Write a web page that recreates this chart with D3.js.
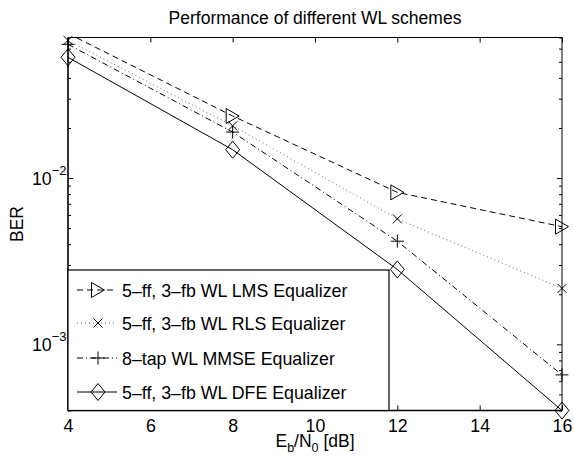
<!DOCTYPE html>
<html>
<head>
<meta charset="utf-8">
<script src="https://cdn.jsdelivr.net/npm/d3@7"></script>
<style>
  body { margin: 0; background: #fff; }
  svg text { font-family: "Liberation Sans", Arial, Helvetica, sans-serif; fill: #000; }
</style>
</head>
<body>
<div class="chart"></div>
<script>
// Data
const snr = [4, 8, 12, 16]
const berLMS = [0.074, 0.0236, 0.0082, 0.0051]
const berRLS = [0.0673, 0.0206, 0.00568, 0.00217]
const berMMSE = [0.0637, 0.0189, 0.00417, 0.000655]
const berDFE = [0.0532, 0.0148, 0.00282, 0.0004]

const seriesNames = [
  "5–ff, 3–fb WL LMS Equalizer",
  "5–ff, 3–fb WL RLS Equalizer",
  "8–tap WL MMSE Equalizer",
  "5–ff, 3–fb WL DFE Equalizer"
]
const xTicks = [4, 6, 8, 10, 12, 14, 16]
const yMajor = [1e-3, 1e-2]
const yMajorLabels = ["−3", "−2"]

const series = [
  {name: seriesNames[0], values: berLMS, dash: "6,4", color: "#000", marker: "tri"},
  {name: seriesNames[1], values: berRLS, dash: "1,3", color: "#666", marker: "x"},
  {name: seriesNames[2], values: berMMSE, dash: "6,3,1,3", color: "#000", marker: "plus"},
  {name: seriesNames[3], values: berDFE, dash: null, color: "#000", marker: "diamond"}
]

const W = 574, H = 461
const margin = {top: 37.5, right: 12, bottom: 50.5, left: 68}
const width = W - margin.left - margin.right
const height = H - margin.top - margin.bottom

const xScale = d3.scaleLinear().domain([4, 16]).range([0, width])
const yScale = d3.scaleLog().domain([4e-4, 7e-2]).range([height, 0])

const svg = d3.select(".chart").append("svg")
    .attr("width", W)
    .attr("height", H)

const g = svg.append("g")
    .attr("transform", `translate(${margin.left},${margin.top})`)

g.append("clipPath").attr("id", "plotclip")
  .append("rect").attr("width", width).attr("height", height)

// minor log ticks
let yMinor = []
for (let d = -4; d <= -1; d++) {
  for (let k = 2; k <= 9; k++) {
    const v = k * Math.pow(10, d)
    if (v >= 4e-4 && v <= 7e-2) yMinor.push(v)
  }
}

// Axes with inward ticks
const axes = g.append("g").attr("class", "axes")
axes.append("g")
    .attr("transform", `translate(0,${height})`)
    .call(d3.axisBottom(xScale).tickValues(xTicks).tickSizeInner(-5).tickSizeOuter(0).tickPadding(9).tickFormat(d3.format("d")))
axes.append("g")
    .call(d3.axisTop(xScale).tickValues(xTicks).tickSizeInner(-5).tickSizeOuter(0).tickFormat(""))
axes.append("g")
    .call(d3.axisLeft(yScale).tickValues(yMajor).tickSizeInner(-5).tickSizeOuter(0).tickFormat(""))
axes.append("g")
    .call(d3.axisLeft(yScale).tickValues(yMinor).tickSizeInner(-3).tickSizeOuter(0).tickFormat(""))
axes.append("g")
    .attr("transform", `translate(${width},0)`)
    .call(d3.axisRight(yScale).tickValues(yMajor).tickSizeInner(-5).tickSizeOuter(0).tickFormat(""))
axes.append("g")
    .attr("transform", `translate(${width},0)`)
    .call(d3.axisRight(yScale).tickValues(yMinor).tickSizeInner(-3).tickSizeOuter(0).tickFormat(""))

axes.selectAll(".domain").remove()
axes.selectAll("line").attr("stroke", "#000").attr("stroke-width", 1)
axes.selectAll(".tick text")
    .style("font-size", "17.8px")
    .style("font-family", "'Liberation Sans', Arial, sans-serif")
    .attr("fill", "#000")

// Box
g.append("line").attr("x1", 0).attr("x2", width).attr("y1", 0).attr("y2", 0).attr("stroke", "#000")
g.append("line").attr("x1", width).attr("x2", width).attr("y1", 0).attr("y2", height).attr("stroke", "#000")
g.append("line").attr("x1", 0).attr("x2", 0).attr("y1", 0).attr("y2", height).attr("stroke", "#000").attr("stroke-width", 1.6)
g.append("line").attr("x1", 0).attr("x2", width).attr("y1", height).attr("y2", height).attr("stroke", "#000").attr("stroke-width", 1.6)

// y tick labels as 10^n
const yLab = g.selectAll(".ylab")
    .data(yMajor)
    .enter()
    .append("text")
    .attr("class", "ylab")
    .attr("x", -1.5)
    .attr("y", d => yScale(d) + 6.5)
    .attr("text-anchor", "end")
    .style("font-size", "17.8px")
yLab.append("tspan").text("10")
yLab.append("tspan").attr("dy", -10).style("font-size", "13px").text((d, i) => yMajorLabels[i])

// Marker shapes
function drawMarker(sel, type) {
  if (type === "tri") {
    sel.append("path").attr("d", "M-6.5,-7.5L6.5,0L-6.5,7.5Z")
  } else if (type === "x") {
    sel.append("path").attr("d", "M-4.5,-4.5L4.5,4.5M-4.5,4.5L4.5,-4.5")
  } else if (type === "plus") {
    sel.append("path").attr("d", "M-6.5,0L6.5,0M0,-6.5L0,6.5")
  } else {
    sel.append("path").attr("d", "M0,-8.5L7,0L0,8.5L-7,0Z")
  }
  sel.selectAll("path").attr("fill", "none").attr("stroke", "#000").attr("stroke-width", 1)
}

const line = d3.line()
    .x((d, i) => xScale(snr[i]))
    .y(d => yScale(d))

// Lines
series.forEach(s => {
  g.append("path")
      .datum(s.values)
      .attr("clip-path", "url(#plotclip)")
      .attr("d", line)
      .attr("fill", "none")
      .attr("stroke", s.color)
      .attr("stroke-width", 1)
      .attr("stroke-dasharray", s.dash)

  g.selectAll(null)
      .data(s.values.map((v, i) => [snr[i], v]).filter(d => d[1] <= 7e-2))
      .enter()
      .append("g")
      .attr("transform", d => `translate(${xScale(d[0])},${yScale(d[1])})`)
      .each(function() { drawMarker(d3.select(this), s.marker) })
})

// Legend
const legend = g.append("g").attr("class", "legend")
legend.append("rect")
    .attr("x", 0)
    .attr("y", 232.5)
    .attr("width", 321)
    .attr("height", height - 232.5)
    .attr("fill", "#fff")
    .attr("stroke", "#000")
    .attr("stroke-width", 1.2)

const rowY = [252.5, 285.5, 320.5, 354.5]
series.forEach((s, i) => {
  const row = legend.append("g").attr("transform", `translate(0,${rowY[i]})`)
  row.append("line")
      .attr("x1", 9).attr("x2", 49)
      .attr("y1", 0).attr("y2", 0)
      .attr("stroke", s.color)
      .attr("stroke-width", 1)
      .attr("stroke-dasharray", s.dash)
  const m = row.append("g").attr("transform", "translate(30,0)")
  drawMarker(m, s.marker)
  row.append("text")
      .attr("x", 54)
      .attr("y", 6.5)
      .style("font-size", "17.8px")
      .text(s.name)
})

// Title
svg.append("text")
    .attr("x", margin.left + width / 2)
    .attr("y", 24)
    .attr("text-anchor", "middle")
    .style("font-size", "17.5px")
    .text("Performance of different WL schemes")

// X-axis title
const xt = svg.append("text")
    .attr("x", margin.left + width / 2)
    .attr("y", 446.5)
    .attr("text-anchor", "middle")
    .style("font-size", "17.5px")
xt.append("tspan").text("E")
xt.append("tspan").attr("dy", 5).style("font-size", "12.5px").text("b")
xt.append("tspan").attr("dy", -5).text("/N")
xt.append("tspan").attr("dy", 5).style("font-size", "12.5px").text("0")
xt.append("tspan").attr("dy", -5).text(" [dB]")

// Y-axis title
svg.append("text")
    .attr("transform", `translate(23,${margin.top + height / 2}) rotate(-90)`)
    .attr("text-anchor", "middle")
    .style("font-size", "17.5px")
    .text("BER")
</script>
</body>
</html>
